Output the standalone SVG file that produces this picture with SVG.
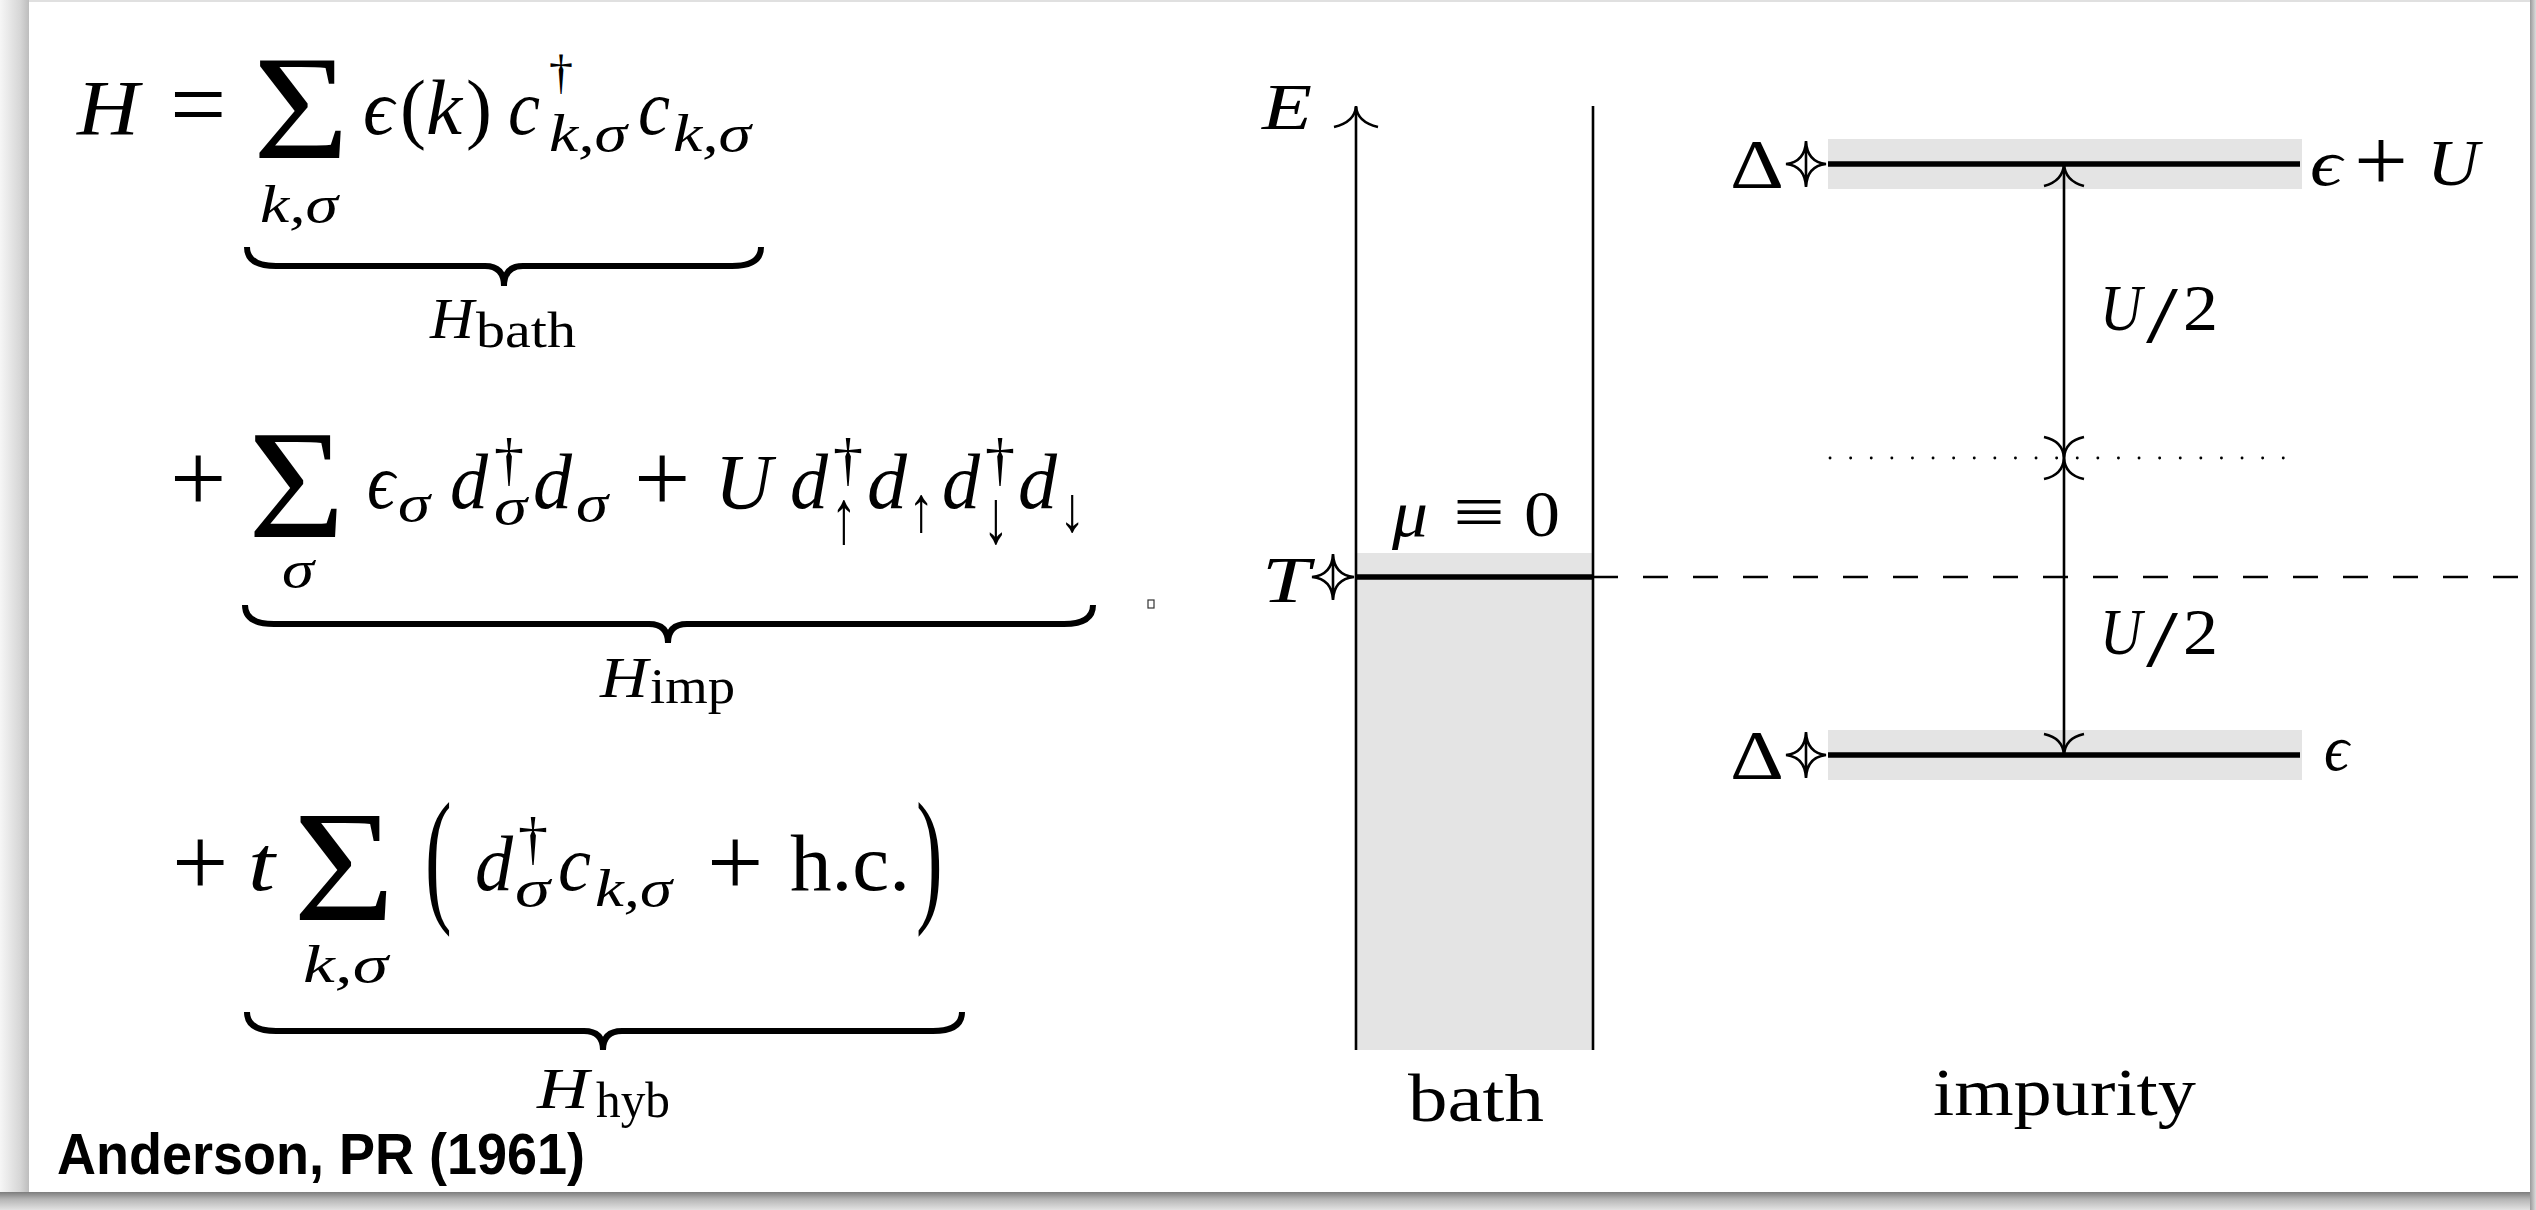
<svg xmlns="http://www.w3.org/2000/svg" width="2536" height="1210" viewBox="0 0 2536 1210">
<defs>
<linearGradient id="shL" x1="0" y1="0" x2="1" y2="0"><stop offset="0" stop-color="#f6f6f6"/><stop offset="0.7" stop-color="#d6d6d6"/><stop offset="1" stop-color="#bdbdbd"/></linearGradient>
<linearGradient id="shB" x1="0" y1="0" x2="0" y2="1"><stop offset="0" stop-color="#7d7d7d"/><stop offset="0.4" stop-color="#b5b5b5"/><stop offset="1" stop-color="#e2e2e2"/></linearGradient>
<linearGradient id="shR" x1="0" y1="0" x2="1" y2="0"><stop offset="0" stop-color="#9a9a9a"/><stop offset="1" stop-color="#dcdcdc"/></linearGradient>
<style>
.m{font-family:"Liberation Serif","DejaVu Serif",serif;fill:#000}
.i{font-style:italic}
.sub{font-size:52px}
.big{font-size:78px}
.lab{font-size:66px}
.ln{stroke:#000;fill:none;stroke-width:2.6}
.lvl{stroke:#000;fill:none;stroke-width:5.5}
.brace{stroke:#000;fill:none;stroke-width:6}
.band{fill:#e4e4e4}
.ref{font-family:"Liberation Sans",Arial,sans-serif;font-weight:bold;fill:#000}
</style>
</defs>

<!-- page / card -->
<rect x="0" y="0" width="2536" height="1210" fill="#ffffff"/>
<rect x="0" y="0" width="29" height="1210" fill="url(#shL)"/>
<rect x="0" y="1192" width="2536" height="18" fill="url(#shB)"/>
<rect x="2530" y="0" width="6" height="1210" fill="url(#shR)"/>
<rect x="29" y="0" width="2501" height="2" fill="#e0e0e0"/>

<!-- Line 1: H_bath -->
<g id="h-bath">
<text class="m i big" x="77" y="134" textLength="62" lengthAdjust="spacingAndGlyphs">H</text>
<text class="m" x="170" y="138" font-size="100">=</text>
<text class="m" x="253" y="158" font-size="148" textLength="96" lengthAdjust="spacingAndGlyphs">Σ</text>
<text class="m i big" x="363" y="134" textLength="31" lengthAdjust="spacingAndGlyphs">ϵ</text>
<text class="m big" x="400" y="134">(</text>
<text class="m i big" x="426" y="134" textLength="36" lengthAdjust="spacingAndGlyphs">k</text>
<text class="m big" x="466" y="134">)</text>
<text class="m i big" x="508" y="134" textLength="32" lengthAdjust="spacingAndGlyphs">c</text>
<text class="m" x="549" y="88" font-size="48">†</text>
<text class="m i sub" x="549" y="151" textLength="78" lengthAdjust="spacingAndGlyphs">k,σ</text>
<text class="m i big" x="638" y="134" textLength="32" lengthAdjust="spacingAndGlyphs">c</text>
<text class="m i sub" x="673" y="151" textLength="78" lengthAdjust="spacingAndGlyphs">k,σ</text>
<text class="m i sub" x="260" y="222" textLength="78" lengthAdjust="spacingAndGlyphs">k,σ</text>
<path class="brace" d="M247,247 Q247,266 276,266 H485 Q504,266 504,286 Q504,266 523,266 H732 Q761,266 761,247"/>
<text class="m i" x="430" y="338" font-size="56" textLength="44" lengthAdjust="spacingAndGlyphs">H</text>
<text class="m" x="476" y="347" font-size="50" textLength="100" lengthAdjust="spacingAndGlyphs">bath</text>
</g>

<!-- Line 2: H_imp -->
<g id="h-imp">
<text class="m" x="170" y="512" font-size="100">+</text>
<text class="m" x="248" y="537" font-size="154" textLength="97" lengthAdjust="spacingAndGlyphs">Σ</text>
<text class="m i big" x="367" y="508" textLength="28" lengthAdjust="spacingAndGlyphs">ϵ</text>
<text class="m i sub" x="398" y="521" textLength="32" lengthAdjust="spacingAndGlyphs">σ</text>
<text class="m i big" x="450" y="508" textLength="38" lengthAdjust="spacingAndGlyphs">d</text>
<text class="m" x="494" y="479" font-size="60">†</text>
<text class="m i sub" x="494" y="524" textLength="33" lengthAdjust="spacingAndGlyphs">σ</text>
<text class="m i big" x="533" y="508" textLength="39" lengthAdjust="spacingAndGlyphs">d</text>
<text class="m i sub" x="576" y="521" textLength="32" lengthAdjust="spacingAndGlyphs">σ</text>
<text class="m" x="634" y="512" font-size="100">+</text>
<text class="m i big" x="715" y="508" textLength="57" lengthAdjust="spacingAndGlyphs">U</text>
<text class="m i big" x="790" y="508" textLength="38" lengthAdjust="spacingAndGlyphs">d</text>
<text class="m" x="833" y="479" font-size="60">†</text>
<text class="m" x="831" y="543" font-size="76" textLength="26" lengthAdjust="spacingAndGlyphs">↑</text>
<text class="m i big" x="867" y="508" textLength="40" lengthAdjust="spacingAndGlyphs">d</text>
<text class="m" x="908" y="531" font-size="64" textLength="26" lengthAdjust="spacingAndGlyphs">↑</text>
<text class="m i big" x="942" y="508" textLength="38" lengthAdjust="spacingAndGlyphs">d</text>
<text class="m" x="985" y="479" font-size="60">†</text>
<text class="m" x="983" y="543" font-size="76" textLength="26" lengthAdjust="spacingAndGlyphs">↓</text>
<text class="m i big" x="1018" y="508" textLength="39" lengthAdjust="spacingAndGlyphs">d</text>
<text class="m" x="1059" y="531" font-size="64" textLength="26" lengthAdjust="spacingAndGlyphs">↓</text>
<text class="m i sub" x="282" y="587" textLength="32" lengthAdjust="spacingAndGlyphs">σ</text>
<path class="brace" d="M245,605 Q245,624 274,624 H649 Q668,624 668,643 Q668,624 687,624 H1064 Q1093,624 1093,605"/>
<text class="m i" x="600" y="697" font-size="56" textLength="48" lengthAdjust="spacingAndGlyphs">H</text>
<text class="m" x="650" y="703" font-size="50" textLength="85" lengthAdjust="spacingAndGlyphs">imp</text>
</g>

<rect x="1148" y="600" width="6" height="8" fill="#fff" stroke="#333" stroke-width="1.2"/>

<!-- Line 3: H_hyb -->
<g id="h-hyb">
<text class="m" x="172" y="896" font-size="100">+</text>
<text class="m i big" x="248" y="890" textLength="27" lengthAdjust="spacingAndGlyphs">t</text>
<text class="m" x="293" y="920" font-size="158" textLength="102" lengthAdjust="spacingAndGlyphs">Σ</text>
<text class="m" font-size="80" transform="translate(425,905) scale(1,1.86)">(</text>
<text class="m i big" x="475" y="890" textLength="38" lengthAdjust="spacingAndGlyphs">d</text>
<text class="m" x="518" y="858" font-size="60">†</text>
<text class="m i sub" x="515" y="906" textLength="35" lengthAdjust="spacingAndGlyphs">σ</text>
<text class="m i big" x="558" y="890" textLength="33" lengthAdjust="spacingAndGlyphs">c</text>
<text class="m i sub" x="595" y="906" textLength="77" lengthAdjust="spacingAndGlyphs">k,σ</text>
<text class="m" x="707" y="896" font-size="100">+</text>
<text class="m" x="790" y="890" font-size="80" textLength="120" lengthAdjust="spacingAndGlyphs">h.c.</text>
<text class="m" font-size="80" transform="translate(916,905) scale(1,1.86)">)</text>
<text class="m i sub" x="303" y="982" textLength="85" lengthAdjust="spacingAndGlyphs">k,σ</text>
<path class="brace" d="M247,1012 Q247,1031 276,1031 H584 Q603,1031 603,1050 Q603,1031 622,1031 H933 Q962,1031 962,1012"/>
<text class="m i" x="537" y="1108" font-size="58" textLength="52" lengthAdjust="spacingAndGlyphs">H</text>
<text class="m" x="596" y="1117" font-size="50" textLength="74" lengthAdjust="spacingAndGlyphs">hyb</text>
</g>

<g id="reference">
<text class="ref" x="57" y="1174" font-size="57" textLength="528" lengthAdjust="spacingAndGlyphs">Anderson, PR (1961)</text>
</g>

<!-- Bath node -->
<g id="bath">
<rect class="band" x="1356" y="553" width="237" height="497"/>
<line class="ln" x1="1593" y1="106" x2="1593" y2="1050"/>
<line class="lvl" x1="1356" y1="577" x2="1593" y2="577"/>
<text class="m i lab" x="1392" y="536" textLength="36" lengthAdjust="spacingAndGlyphs">μ</text>
<text class="m" x="1453" y="536" font-size="72" textLength="52" lengthAdjust="spacingAndGlyphs">≡</text>
<text class="m lab" x="1524" y="536" textLength="36" lengthAdjust="spacingAndGlyphs">0</text>
<text class="m i lab" x="1262" y="602" textLength="48" lengthAdjust="spacingAndGlyphs">T</text>
<text class="m" x="1408" y="1121" font-size="67" textLength="136" lengthAdjust="spacingAndGlyphs">bath</text>
</g>

<!-- Impurity node -->
<g id="impurity">
<rect class="band" x="1828" y="139" width="474" height="50"/>
<rect class="band" x="1828" y="730" width="474" height="50"/>
<line class="lvl" x1="1828" y1="164" x2="2300" y2="164"/>
<line class="lvl" x1="1828" y1="755" x2="2300" y2="755"/>
<text class="m" x="1730" y="188" font-size="70" textLength="54" lengthAdjust="spacingAndGlyphs">Δ</text>
<text class="m" x="1730" y="779" font-size="70" textLength="54" lengthAdjust="spacingAndGlyphs">Δ</text>
<text class="m i lab" x="2310" y="185" textLength="32" lengthAdjust="spacingAndGlyphs">ϵ</text>
<text class="m" x="2354" y="190" font-size="88" textLength="54" lengthAdjust="spacingAndGlyphs">+</text>
<text class="m i lab" x="2427" y="185" textLength="52" lengthAdjust="spacingAndGlyphs">U</text>
<text class="m i lab" x="2324" y="770" textLength="25" lengthAdjust="spacingAndGlyphs">ϵ</text>
<text class="m i lab" x="2100" y="330" textLength="42" lengthAdjust="spacingAndGlyphs">U</text>
<text class="m" x="2146" y="342" font-size="80" textLength="32" lengthAdjust="spacingAndGlyphs">/</text>
<text class="m lab" x="2183" y="330" textLength="35" lengthAdjust="spacingAndGlyphs">2</text>
<text class="m i lab" x="2100" y="654" textLength="42" lengthAdjust="spacingAndGlyphs">U</text>
<text class="m" x="2146" y="666" font-size="80" textLength="32" lengthAdjust="spacingAndGlyphs">/</text>
<text class="m lab" x="2183" y="654" textLength="35" lengthAdjust="spacingAndGlyphs">2</text>
<text class="m" x="1933" y="1115" font-size="67" textLength="263" lengthAdjust="spacingAndGlyphs">impurity</text>
</g>

<!-- Axis label -->
<g id="axis-label">
<text class="m i lab" x="1262" y="129" textLength="50" lengthAdjust="spacingAndGlyphs">E</text>
</g>

<!-- Connectors -->
<g id="connectors">
<line class="ln" x1="1356" y1="1050" x2="1356" y2="107"/>
<path class="ln" d="M1356,106 Q1357,122 1378,127 M1356,106 Q1355,122 1334,127"/>
<line class="ln" x1="1593" y1="577" x2="2518" y2="577" stroke-dasharray="25 25"/>
<line x1="1830" y1="458" x2="2292" y2="458" stroke="#000" stroke-width="2.8" stroke-linecap="round" stroke-dasharray="0.1 20.5"/>
<line class="ln" x1="2064" y1="165" x2="2064" y2="754"/>
<path class="ln" d="M2064,164 Q2065,181 2084,186 M2064,164 Q2063,181 2044,186 M2064,458 Q2065,441 2084,437 M2064,458 Q2063,441 2044,437 M2064,458 Q2065,475 2084,479 M2064,458 Q2063,475 2044,479 M2064,755 Q2065,738 2084,734 M2064,755 Q2063,738 2044,734"/>
<path class="ln" stroke-width="2.4" d="M1333,554 V600 M1333,554 Q1334,575 1354,577 Q1334,579 1333,600 Q1332,579 1312,577 Q1332,575 1333,554"/>
<path class="ln" stroke-width="2.4" d="M1806,141 V187 M1806,141 Q1807,162 1826,164 Q1807,166 1806,187 Q1805,166 1786,164 Q1805,162 1806,141"/>
<path class="ln" stroke-width="2.4" d="M1806,732 V778 M1806,732 Q1807,753 1826,755 Q1807,757 1806,778 Q1805,757 1786,755 Q1805,753 1806,732"/>
</g>
</svg>
